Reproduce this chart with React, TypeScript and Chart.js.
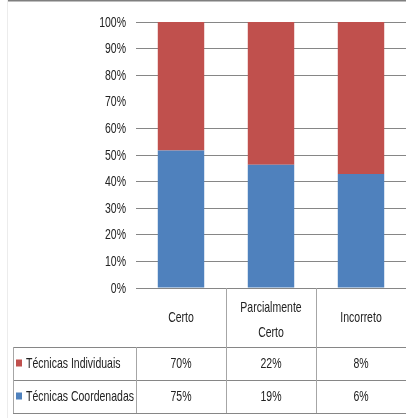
import React, { useEffect, useRef } from "react";
import { Chart, registerables } from "chart.js";

Chart.register(...registerables);

const categories: string[][] = [["Certo"], ["Parcialmente", "Certo"], ["Incorreto"]];
const seriesNames = ["Técnicas Individuais", "Técnicas Coordenadas"];
const individuais = [70, 22, 8];
const coordenadas = [75, 19, 6];
const yTicks = [0, 10, 20, 30, 40, 50, 60, 70, 80, 90, 100];

const RED = "#C0504D";
const BLUE = "#4F81BD";
const FONT = '"Liberation Sans", Arial, sans-serif';
const FONT_SIZE = 15;
const SCALE_X = 0.7;
const TEXT = "#222222";
const LINE = "#868686";

const shareCoord = coordenadas.map((c, i) => (c / (c + individuais[i])) * 100);
const shareIndiv = individuais.map((v, i) => (v / (v + coordenadas[i])) * 100);

function narrowText(ctx: CanvasRenderingContext2D, text: string, x: number, y: number, align: CanvasTextAlign) {
  ctx.save();
  ctx.translate(x, y);
  ctx.scale(SCALE_X, 1);
  ctx.textAlign = align;
  ctx.textBaseline = "middle";
  ctx.font = `${FONT_SIZE}px ${FONT}`;
  ctx.fillStyle = TEXT;
  ctx.fillText(text, 0, 0);
  ctx.restore();
}

const tablePlugin = {
  id: "dataTable",
  afterDraw(chart: any) {
    const { ctx, chartArea, scales } = chart;
    const x = scales.x;
    const y = scales.y;
    const { left, right, bottom } = chartArea;
    const n = categories.length;
    const cw = (right - left) / n;
    const headerBottom = bottom + 59;
    const row1Bottom = headerBottom + 33;
    const row2Bottom = row1Bottom + 33;
    const tableLeft = 13;
    ctx.save();
    // outer frame (top and left)
    ctx.strokeStyle = "#7f7f7f";
    ctx.lineWidth = 1.5;
    ctx.beginPath();
    ctx.moveTo(7, 0.75);
    ctx.lineTo(chart.width + 10, 0.75);
    ctx.stroke();
    ctx.strokeStyle = "#ececec";
    ctx.lineWidth = 1;
    ctx.beginPath();
    ctx.moveTo(7.5, 0);
    ctx.lineTo(7.5, chart.height);
    ctx.stroke();

    // y tick labels
    yTicks.forEach((v) => narrowText(ctx, `${v}%`, 126, y.getPixelForValue(v) + 0.5, "right"));

    // table lines
    ctx.strokeStyle = LINE;
    ctx.lineWidth = 1;
    ctx.beginPath();
    for (const yy of [headerBottom, row1Bottom, row2Bottom]) {
      ctx.moveTo(tableLeft, Math.round(yy) + 0.5);
      ctx.lineTo(right + 5, Math.round(yy) + 0.5);
    }
    ctx.stroke();
    ctx.strokeStyle = "#a6a6a6";
    ctx.beginPath();
    ctx.moveTo(tableLeft + 0.5, headerBottom);
    ctx.lineTo(tableLeft + 0.5, row2Bottom);
    ctx.moveTo(Math.round(left) + 0.5, headerBottom);
    ctx.lineTo(Math.round(left) + 0.5, row2Bottom);
    for (let i = 1; i < n; i++) {
      const bx = Math.round(left + i * cw) + 0.5;
      ctx.moveTo(bx, bottom);
      ctx.lineTo(bx, row2Bottom);
    }
    ctx.stroke();

    const headerMid = (bottom + headerBottom) / 2;
    categories.forEach((lines, i) => {
      const cx = x.getPixelForValue(i);
      const lh = 25;
      const start = lines.length > 1 ? headerMid - 10 : headerMid;
      lines.forEach((ln, k) => narrowText(ctx, ln, cx, start + k * lh, "center"));
    });
    const rows = [
      { name: seriesNames[0], color: RED, values: individuais },
      { name: seriesNames[1], color: BLUE, values: coordenadas },
    ];
    const rowTops = [headerBottom, row1Bottom];
    rows.forEach((r, ri) => {
      const mid = rowTops[ri] + 16.5;
      ctx.fillStyle = r.color;
      ctx.fillRect(16, mid - 4, 6, 7);
      narrowText(ctx, r.name, 26, mid, "left");
      r.values.forEach((v, i) => narrowText(ctx, `${v}%`, x.getPixelForValue(i), mid, "center"));
    });
    ctx.restore();
  },
};

export default function App() {
  const ref = useRef<HTMLCanvasElement | null>(null);
  useEffect(() => {
    document.body.style.margin = "0";
    document.body.style.overflow = "hidden";
    const chart = new Chart(ref.current as HTMLCanvasElement, {
      type: "bar",
      data: {
        labels: categories.map((c) => c.join(" ")),
        datasets: [
          { label: seriesNames[1], data: shareCoord, backgroundColor: BLUE },
          { label: seriesNames[0], data: shareIndiv, backgroundColor: RED },
        ],
      },
      options: {
        responsive: false,
        animation: false,
        layout: { padding: { top: 22, bottom: 130, left: 0, right: -3 } },
        plugins: { legend: { display: false }, tooltip: { enabled: false } },
        datasets: { bar: { barPercentage: 0.516, categoryPercentage: 1 } },
        scales: {
          x: { stacked: true, display: false },
          y: {
            stacked: true,
            min: 0,
            max: 100,
            afterFit: (axis: any) => {
              axis.width = 136;
            },
            afterBuildTicks: (axis: any) => {
              axis.ticks = yTicks.map((v) => ({ value: v }));
            },
            ticks: { display: false },
            grid: {
              drawTicks: false,
              color: (c: any) => (c.index === 7 ? "rgba(255,255,255,0)" : LINE),
              lineWidth: 1,
            },
            border: { display: false },
          },
        },
      },
      plugins: [tablePlugin],
    });
    return () => chart.destroy();
  }, []);
  return (
    <div style={{ position: "absolute", left: 0, top: 0, width: 406, height: 418, background: "#fff" }}>
      <canvas ref={ref} width={406} height={418} style={{ display: "block" }} />
    </div>
  );
}
